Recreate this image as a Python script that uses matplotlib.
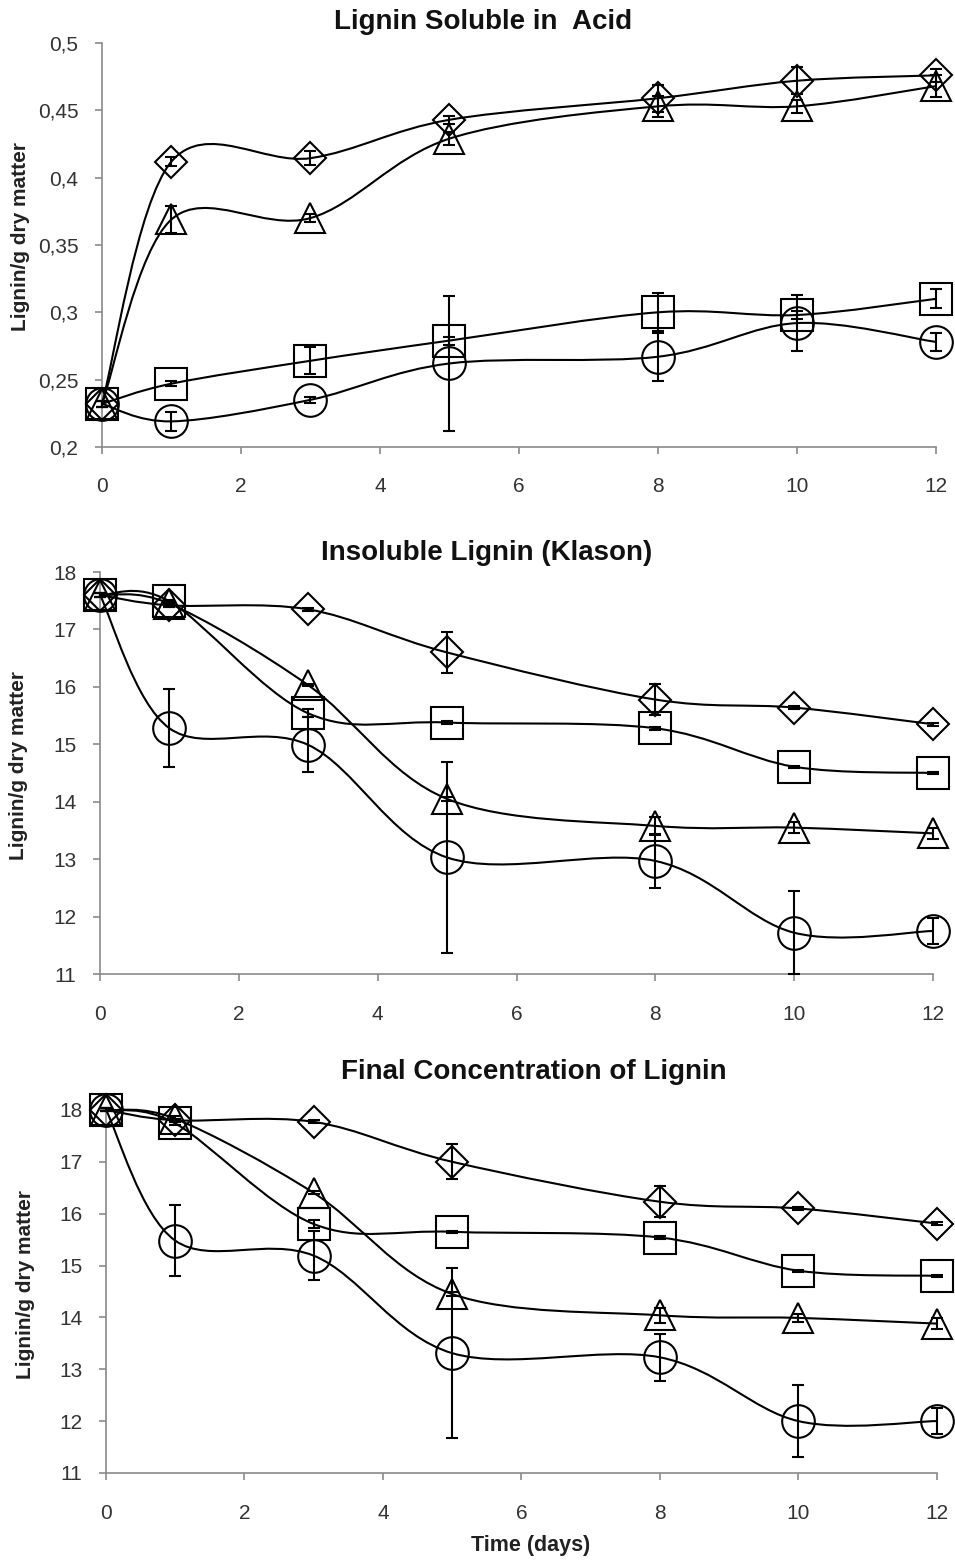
import matplotlib
matplotlib.use("Agg")
import matplotlib.pyplot as plt
from matplotlib.path import Path
from matplotlib.patches import PathPatch
from matplotlib.ticker import FuncFormatter

days = [0, 1, 3, 5, 8, 10, 12]

# Lignin soluble in acid
acid_diamond = [0.232, 0.412, 0.4145, 0.443, 0.459, 0.472, 0.476]
acid_diamond_err = [0.002, 0.003, 0.005, 0.003, 0.010, 0.010, 0.005]
acid_triangle = [0.232, 0.369, 0.370, 0.429, 0.453, 0.453, 0.468]
acid_triangle_err = [0.002, 0.010, 0.003, 0.005, 0.008, 0.005, 0.008]
acid_square = [0.232, 0.247, 0.264, 0.279, 0.300, 0.298, 0.310]
acid_square_err = [0.002, 0.002, 0.010, 0.003, 0.014, 0.003, 0.007]
acid_circle = [0.232, 0.219, 0.235, 0.262, 0.267, 0.292, 0.278]
acid_circle_err = [0.002, 0.007, 0.002, 0.050, 0.018, 0.021, 0.007]

# Insoluble lignin (Klason)
klason_diamond = [17.6, 17.42, 17.35, 16.6, 15.78, 15.64, 15.35]
klason_diamond_err = [0.03, 0.03, 0.03, 0.35, 0.27, 0.03, 0.03]
klason_triangle = [17.6, 17.45, 16.03, 14.05, 13.58, 13.55, 13.45]
klason_triangle_err = [0.03, 0.05, 0.02, 0.03, 0.15, 0.10, 0.10]
klason_square = [17.6, 17.49, 15.54, 15.38, 15.28, 14.61, 14.50]
klason_square_err = [0.03, 0.03, 0.07, 0.02, 0.03, 0.02, 0.02]
klason_circle = [17.6, 15.28, 14.99, 13.03, 12.97, 11.72, 11.75]
klason_circle_err = [0.03, 0.68, 0.48, 1.67, 0.47, 0.72, 0.23]

# Final concentration of lignin
final_diamond = [18.0, 17.8, 17.77, 17.0, 16.23, 16.1, 15.81]
final_diamond_err = [0.03, 0.03, 0.03, 0.34, 0.30, 0.03, 0.03]
final_triangle = [18.0, 17.83, 16.4, 14.45, 14.04, 13.99, 13.88]
final_triangle_err = [0.03, 0.05, 0.03, 0.03, 0.15, 0.07, 0.10]
final_square = [18.0, 17.74, 15.8, 15.65, 15.54, 14.9, 14.8]
final_square_err = [0.03, 0.03, 0.07, 0.02, 0.03, 0.02, 0.02]
final_circle = [18.0, 15.48, 15.19, 13.31, 13.23, 12.0, 12.0]
final_circle_err = [0.03, 0.68, 0.47, 1.64, 0.45, 0.69, 0.25]

plt.rcParams["font.family"] = ["Liberation Sans", "DejaVu Sans"]
AXIS_GRAY = "#8a8a8a"


def smooth_line(ax, x, y):
    # Excel-style smoothed line (Catmull-Rom as cubic Bezier)
    n = len(x)
    verts = [(x[0], y[0])]
    codes = [Path.MOVETO]
    for i in range(n - 1):
        xa, ya = (x[i - 1], y[i - 1]) if i > 0 else (x[i], y[i])
        xb, yb = (x[i + 2], y[i + 2]) if i + 2 < n else (x[i + 1], y[i + 1])
        c1 = (x[i] + (x[i + 1] - xa) / 6, y[i] + (y[i + 1] - ya) / 6)
        c2 = (x[i + 1] - (xb - x[i]) / 6, y[i + 1] - (yb - y[i]) / 6)
        verts += [c1, c2, (x[i + 1], y[i + 1])]
        codes += [Path.CURVE4] * 3
    ax.add_patch(PathPatch(Path(verts, codes), fill=False, lw=1.5,
                           edgecolor="black", zorder=3, clip_on=False))


def draw_series(ax, y, err, marker, ms):
    smooth_line(ax, days, y)
    ax.errorbar(days, y, yerr=err, fmt="none", ecolor="black", elinewidth=1.5,
                capsize=4, capthick=1.5, zorder=4, clip_on=False)
    ax.plot(days, y, ls="none", marker=marker, ms=ms, mfc="none",
            mec="black", mew=1.5, zorder=5, clip_on=False)


def style_axes(ax, ylim, yticks):
    ax.set_xlim(0, 12)
    ax.set_ylim(*ylim)
    ax.set_xticks(range(0, 13, 2))
    ax.set_yticks(yticks)
    for s in ["top", "right"]:
        ax.spines[s].set_visible(False)
    for s in ["left", "bottom"]:
        ax.spines[s].set_color(AXIS_GRAY)
        ax.spines[s].set_linewidth(1.2)
    ax.tick_params(axis="both", direction="out", length=5, width=1.2,
                   color=AXIS_GRAY, labelcolor="#333333", labelsize=15)
    ax.tick_params(axis="y", pad=12)
    ax.tick_params(axis="x", pad=17)
    ax.set_ylabel("Lignin/g dry matter", fontsize=15, fontweight="bold",
                  color="#222222")
    ax.yaxis.set_label_coords(-0.086, 0.52)


fig = plt.figure(figsize=(9.55, 15.6), dpi=100)

ax1 = fig.add_axes([0.1068, 0.7135, 0.8732, 0.2589])
ax2 = fig.add_axes([0.1047, 0.3756, 0.8723, 0.2577])
ax3 = fig.add_axes([0.1110, 0.0558, 0.8700, 0.2327])

panels = [
    (ax1, [acid_diamond, acid_triangle, acid_square, acid_circle],
     [acid_diamond_err, acid_triangle_err, acid_square_err, acid_circle_err]),
    (ax2, [klason_diamond, klason_triangle, klason_square, klason_circle],
     [klason_diamond_err, klason_triangle_err, klason_square_err, klason_circle_err]),
    (ax3, [final_diamond, final_triangle, final_square, final_circle],
     [final_diamond_err, final_triangle_err, final_square_err, final_circle_err]),
]
markers = [("D", 16.5), ("^", 22), ("s", 23.5), ("o", 23.5)]

for ax, series, errs in panels:
    for y, e, (m, ms) in zip(series, errs, markers):
        draw_series(ax, y, e, m, ms)

style_axes(ax1, (0.2, 0.5), [0.2, 0.25, 0.3, 0.35, 0.4, 0.45, 0.5])
ax1.yaxis.set_major_formatter(FuncFormatter(lambda v, p: f"{v:g}".replace(".", ",")))
style_axes(ax2, (11, 18), range(11, 19))
style_axes(ax3, (11, 18), range(11, 19))

fig.text(483 / 955, 1 - 22 / 1560, "Lignin Soluble in  Acid", ha="center",
         va="center", fontsize=20, fontweight="bold", color="#111111")
fig.text(487 / 955, 1 - 553 / 1560, "Insoluble Lignin (Klason)", ha="center",
         va="center", fontsize=20, fontweight="bold", color="#111111")
fig.text(534 / 955, 1 - 1072 / 1560, "Final Concentration of Lignin", ha="center",
         va="center", fontsize=20, fontweight="bold", color="#111111")
fig.text(531 / 955, 1 - 1545 / 1560, "Time (days)", ha="center",
         va="center", fontsize=15.5, fontweight="bold", color="#222222")

fig.savefig("out.png", dpi=100, facecolor="white")
